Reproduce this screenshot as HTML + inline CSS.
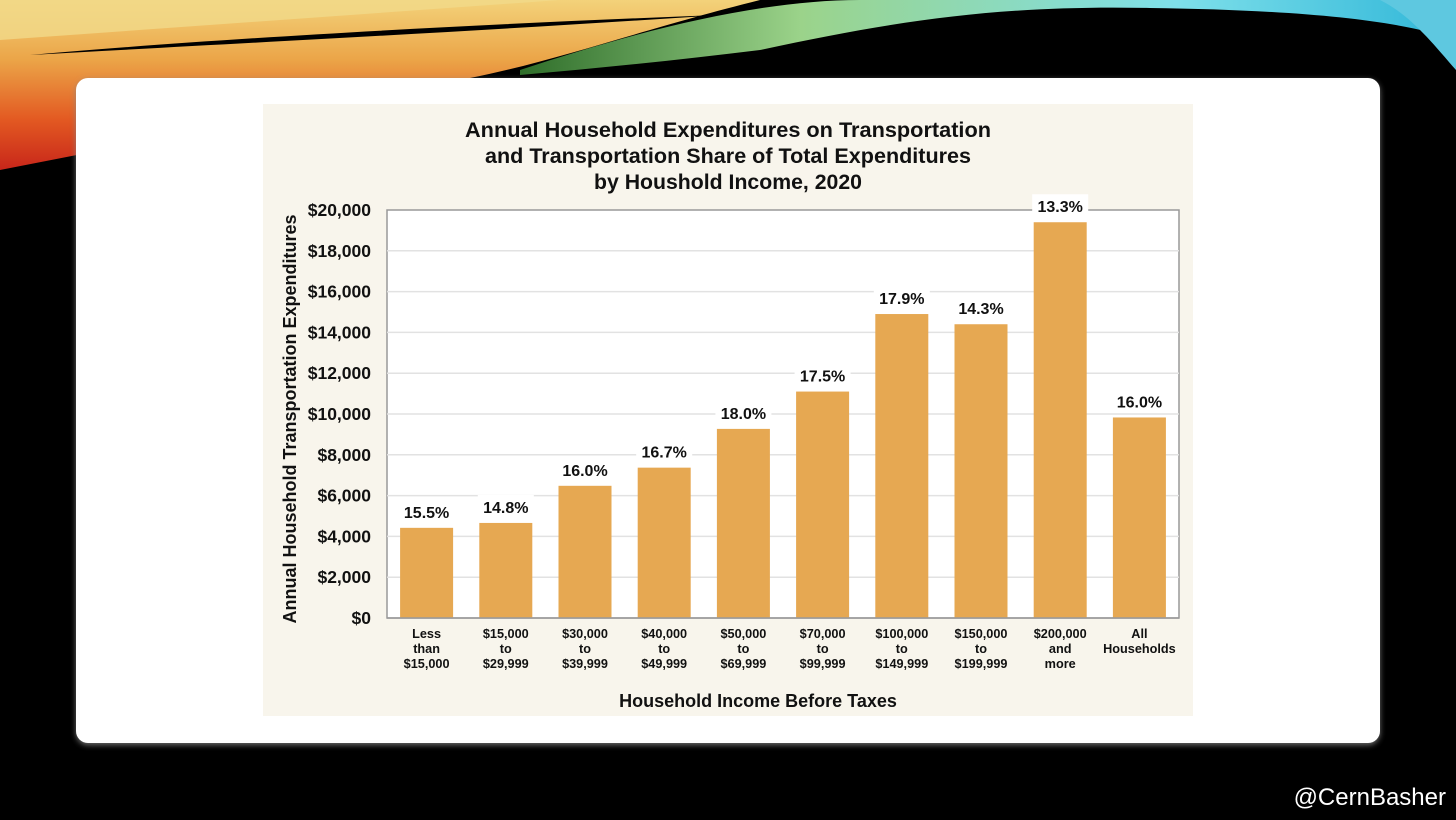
<!DOCTYPE html>
<html><head><meta charset="utf-8">
<style>
html,body{margin:0;padding:0;background:#000;width:1456px;height:820px;overflow:hidden}
svg{display:block}
text{font-family:"Liberation Sans",Arial,sans-serif}
</style></head>
<body>
<svg id="slide" width="1456" height="820" viewBox="0 0 1456 820">
<defs>
<linearGradient id="warm" x1="0" y1="0" x2="0" y2="1">
<stop offset="0" stop-color="#f3d27a"/><stop offset="0.35" stop-color="#eba548"/><stop offset="0.7" stop-color="#e35a22"/><stop offset="1" stop-color="#c8261a"/>
</linearGradient>
<linearGradient id="cool" x1="0" y1="0" x2="1" y2="0">
<stop offset="0" stop-color="#2f6e2a"/><stop offset="0.3" stop-color="#9bd38a"/><stop offset="0.7" stop-color="#7fe0ea"/><stop offset="1" stop-color="#2fb6d8"/>
</linearGradient>
<filter id="sh" x="-5%" y="-5%" width="110%" height="115%"><feDropShadow dx="0" dy="2" stdDeviation="3" flood-color="#888" flood-opacity="0.8"/></filter>
</defs>
<g>
<path d="M0 0 H760 C640 30 560 60 470 78 L0 170 Z" fill="url(#warm)"/>
<path d="M0 0 H560 L0 40 Z" fill="#f1d98a" opacity="0.8"/>
<path d="M30 55 C200 40 450 25 720 15 C500 30 300 40 30 55 Z" fill="#000"/>
<path d="M520 70 C640 30 760 0 860 0 H1456 V40 C1400 20 1300 10 1150 8 C1000 5 900 20 760 50 C680 60 600 68 520 75 Z" fill="url(#cool)"/>
<path d="M1380 0 H1456 V70 C1430 40 1410 15 1380 0 Z" fill="#5ec8e0"/>
</g>
<rect x="76" y="78" width="1304" height="665" rx="12" fill="#fff" filter="url(#sh)"/>
<rect x="263" y="104" width="930" height="612" fill="#f8f5ec"/>
<g font-weight="bold" font-size="21" text-anchor="middle" fill="#111">
<text x="728" y="137" textLength="526" lengthAdjust="spacingAndGlyphs">Annual Household Expenditures on Transportation</text>
<text x="728" y="163" textLength="486" lengthAdjust="spacingAndGlyphs">and Transportation Share of Total Expenditures</text>
<text x="728" y="189" textLength="268" lengthAdjust="spacingAndGlyphs">by Houshold Income, 2020</text>
</g>
<g id="chart"></g>
<text x="296" y="419" transform="rotate(-90 296 419)" font-weight="bold" font-size="18" text-anchor="middle" fill="#111">Annual Household Transportation Expenditures</text>
<text x="758" y="707" font-weight="bold" font-size="18" text-anchor="middle" fill="#111">Household Income Before Taxes</text>
<text x="1446" y="805" font-size="24" text-anchor="end" fill="#fff">@CernBasher</text>
</svg>
<script>
const categories = [["Less","than","$15,000"],["$15,000","to","$29,999"],["$30,000","to","$39,999"],["$40,000","to","$49,999"],["$50,000","to","$69,999"],["$70,000","to","$99,999"],["$100,000","to","$149,999"],["$150,000","to","$199,999"],["$200,000","and","more"],["All","Households",""]];
const expenditures = [4420, 4660, 6480, 7370, 9270, 11100, 14900, 14400, 19400, 9830];
const shareLabels = ["15.5%","14.8%","16.0%","16.7%","18.0%","17.5%","17.9%","14.3%","13.3%","16.0%"];
const yTicks = [0,2000,4000,6000,8000,10000,12000,14000,16000,18000,20000];
const yTickLabels = ["$0","$2,000","$4,000","$6,000","$8,000","$10,000","$12,000","$14,000","$16,000","$18,000","$20,000"];

const NS="http://www.w3.org/2000/svg";
const g=document.getElementById('chart');
const L=387,R=1179,T=210,B=618,yMax=20000;
const y=v=>B-(v/yMax)*(B-T);
const slot=(R-L)/categories.length;
const xc=i=>L+slot*(i+0.5);
const bw=53;
function mk(tag,attrs,parent){const e=document.createElementNS(NS,tag);for(const k in attrs)e.setAttribute(k,attrs[k]);(parent||g).appendChild(e);return e;}
const plot=mk('rect',{x:L,y:T,width:R-L,height:B-T,fill:'#fff',stroke:'#999','stroke-width':1.5});


yTicks.forEach((t,i)=>{
  if(t>0&&t<yMax){const gl=mk('line',{x1:L,x2:R,y1:y(t),y2:y(t),stroke:'#e2e2e2','stroke-width':1.5});
  
  }
  const tl=mk('text',{x:L-16,y:y(t)+6,'text-anchor':'end','font-size':17.5,'font-weight':'bold',fill:'#111'});
  tl.textContent=yTickLabels[i];
  
  
});
expenditures.forEach((v,i)=>{
  const b=mk('rect',{x:xc(i)-bw/2,y:y(v),width:bw,height:B-y(v),fill:'#e6a852'});
  
  
  const bg=mk('rect',{x:xc(i)-28,y:y(v)-28,width:56,height:22,fill:'#fff'});
  
  
  const vl=mk('text',{x:xc(i),y:y(v)-10,'text-anchor':'middle','font-size':16,'font-weight':'bold',fill:'#111'});
  vl.textContent=shareLabels[i];
  
  
  categories[i].forEach((line,j)=>{
    const c=mk('text',{x:xc(i),y:638+j*15,'text-anchor':'middle','font-size':12.7,'font-weight':'bold',fill:'#111'});
    c.textContent=line;
    
    
  });
});
mk('line',{x1:L,x2:R,y1:B,y2:B,stroke:'#999','stroke-width':1.5});
</script>
</body></html>
